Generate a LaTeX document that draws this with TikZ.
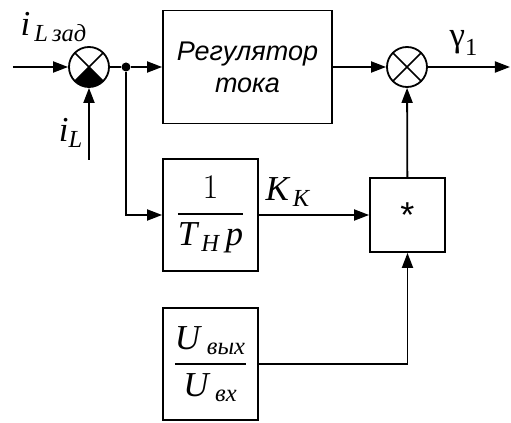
\documentclass[tikz,border=0pt]{standalone}
\usepackage{amsmath}
\usepackage{fontspec}
\setmainfont{Liberation Serif}
\setsansfont{Liberation Sans}
\usetikzlibrary{arrows.meta}

\newcommand{\mv}[1]{\text{\itshape #1}}
\newcommand{\bigsz}{\fontsize{17.5}{21}\selectfont}

\begin{document}
\begin{tikzpicture}[x=0.5pt,y=0.5pt,line width=0.9pt,font=\bigsz,
    >={Triangle[length=7.5pt,width=5.5pt]},
    block/.style={draw,rectangle,inner sep=0pt,align=center},
    summer/.style={draw,circle,minimum size=20pt,inner sep=0pt,
        path picture={
            \draw[line width=0.8pt]
                (path picture bounding box.north west) -- (path picture bounding box.south east)
                (path picture bounding box.north east) -- (path picture bounding box.south west);
        }},
    halfblack/.style={draw,circle,minimum size=20pt,inner sep=0pt,
        path picture={
            \fill (path picture bounding box.center)
                -- (path picture bounding box.south west)
                -- (path picture bounding box.south east) -- cycle;
            \draw[line width=0.8pt]
                (path picture bounding box.north west) -- (path picture bounding box.south east)
                (path picture bounding box.north east) -- (path picture bounding box.south west);
        }},
    dot/.style={circle,fill,inner sep=0pt,minimum size=4.5pt}]
    \useasboundingbox (0,0) rectangle (511,-423);

    % first summer and its inputs
    \coordinate (in) at (13,-67);
    \coordinate (ilin) at (89,-160);
    \node[halfblack] (s1) at (89,-67) {};
    \node[dot] (j) at (126,-67) {};
    \node (lset) at (54,-27) {$\mv{i}_{\,\mv{L\,зад}}$};
    \node (lfb) at (71,-133) {$\mv{i}_{\mv{L}}$};

    % blocks
    \node[block,minimum width=84.5pt,minimum height=56.5pt,
          font={\sffamily\itshape\fontsize{13.5}{16}\selectfont}]
        (reg) at (247.5,-67) {Регулятор\\тока};
    \node[block,minimum width=47.5pt,minimum height=56pt]
        (int) at (210.5,-215) {$\genfrac{}{}{0.9pt}{0}{1}{\mv{T}_{\,\mv{H}}\,\mv{p}}$};
    \node[block,minimum width=37.5pt,minimum height=37pt,
          font=\sffamily\fontsize{18}{20}\selectfont]
        (mul) at (407.5,-215) {*};
    \node[block,minimum width=47.5pt,minimum height=56pt]
        (ratio) at (210.5,-364) {$\genfrac{}{}{0.9pt}{0}{\mv{U}_{\;\mv{вых}}}{\mv{U}_{\;\mv{вх}}}$};

    % second summer and output
    \node[summer] (s2) at (407,-67) {};
    \coordinate (out) at (510,-67);
    \node (gam) at (464,-43) {$\text{γ}_{\text{1}}$};
    \node (kk) at (288,-192) {$\mv{K}_{\,\mv{K}}$};

    \draw[->] (in) -- (s1);
    \draw[->] (ilin) -- (s1);
    \draw (s1) -- (j);
    \draw[->] (j) -- (reg);
    \draw[->] (j) |- (int);
    \draw[->] (reg) -- (s2);
    \draw[->] (s2) -- (out);
    \draw[->] (int) -- (mul);
    \draw[->] (mul) -- (s2);
    \draw[->] (ratio) -| (mul);
\end{tikzpicture}
\end{document}
